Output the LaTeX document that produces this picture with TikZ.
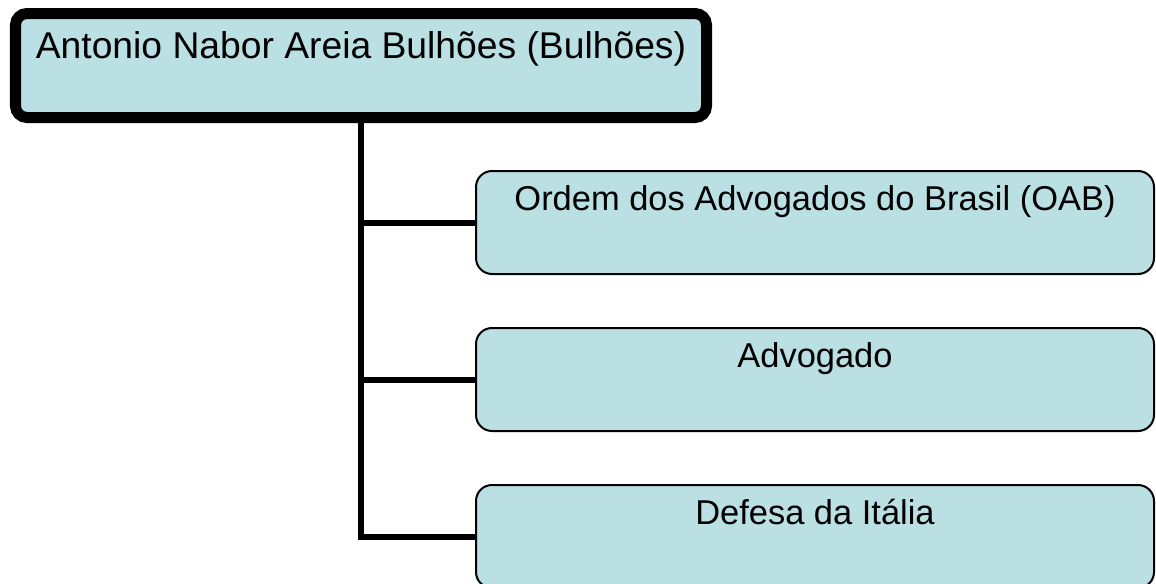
\documentclass[tikz,border=0pt]{standalone}
\usepackage{fontspec}
\setmainfont{Liberation Sans}
\usetikzlibrary{positioning}
\definecolor{boxfill}{RGB}{186,224,228}

\begin{document}
\begin{tikzpicture}[
        rootbox/.style={draw, fill=boxfill, line width=0.22cm, rounded corners=0.23cm,
            inner sep=0pt, minimum width=13.82cm, text height=0.9cm, text depth=1.18cm,
            font=\fontsize{21.2}{25}\selectfont},
        leafbox/.style={draw, fill=boxfill, line width=0.04cm, rounded corners=0.32cm,
            inner sep=0pt, minimum width=13.56cm, text height=0.78cm, text depth=1.28cm,
            font=\fontsize{19.6}{23}\selectfont},
        branch/.style={line width=0.12cm}
    ]
                \useasboundingbox (0,0) rectangle (23.12,-11.66);

                \node[rootbox, anchor=north west] (root) at (0.2,-0.16) {Antonio Nabor Areia Bulhões (Bulhões)};

                \node[leafbox, anchor=north west] (oab) at (9.5,-3.4) {Ordem dos Advogados do Brasil (OAB)};
                \node[leafbox, below=1.04cm of oab] (adv) {Advogado};
                \node[leafbox, below=1.04cm of adv] (ita) {Defesa da Itália};

                \draw[branch] (root.south) |- (ita.west);
                \foreach \n in {oab,adv}{
                    \draw[branch] (root.south |- \n.west) -- (\n.west);
                }
            \end{tikzpicture}
\end{document}
